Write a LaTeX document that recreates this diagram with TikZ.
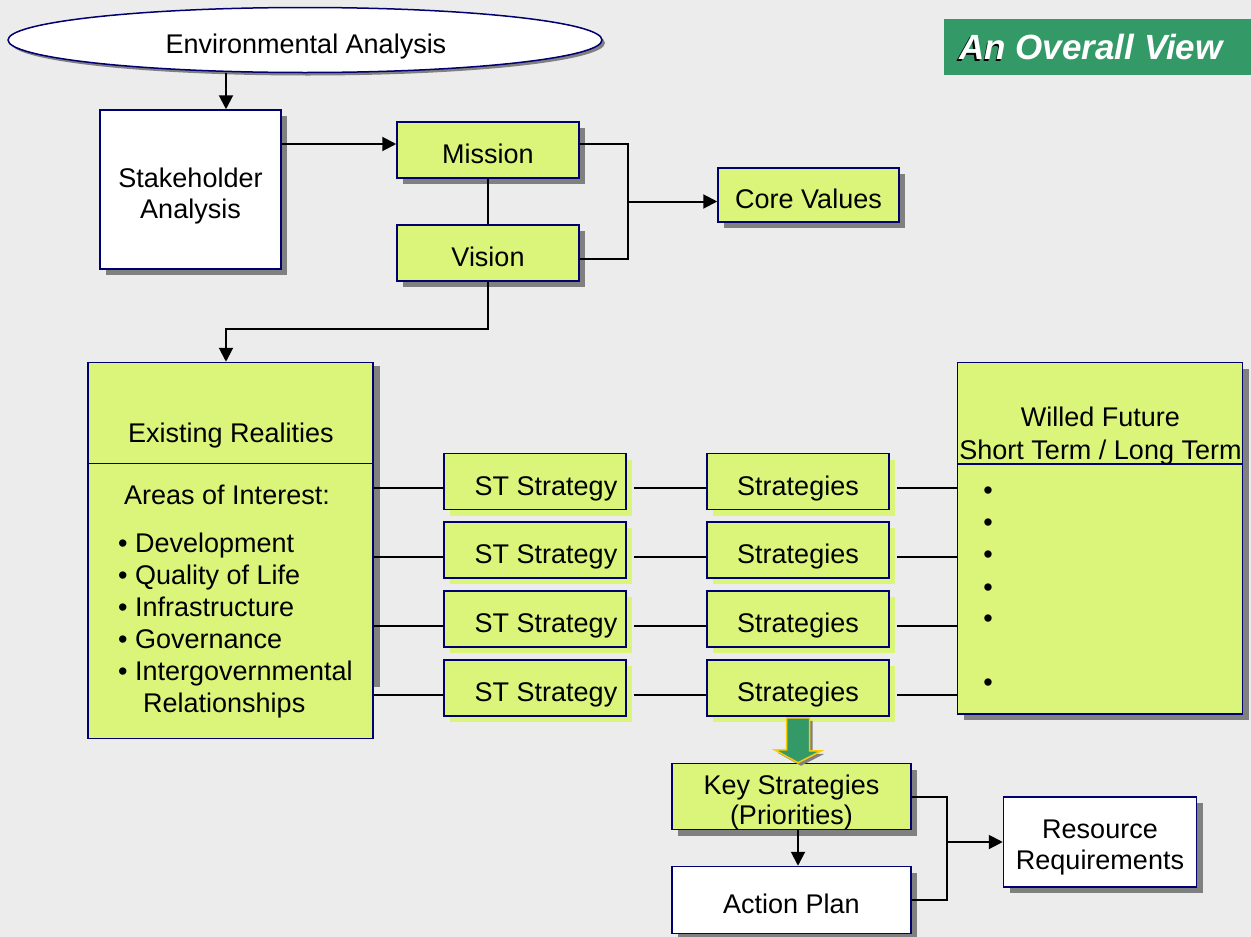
\documentclass[tikz,border=0pt]{standalone}
\usepackage{fontspec}
\setmainfont{Liberation Sans}
\usetikzlibrary{arrows.meta,shadows,shapes.geometric,calc}
\definecolor{lgreen}{RGB}{218,245,122}
\definecolor{navy}{RGB}{0,0,112}
\definecolor{dgreen}{RGB}{51,153,102}
\definecolor{bgc}{RGB}{236,236,236}
\definecolor{gold}{RGB}{255,204,0}
\definecolor{shgray}{RGB}{128,128,128}
\begin{document}
\begin{tikzpicture}[x=1pt,y=-1pt,
  base/.style={draw=navy, line width=1.5pt, inner sep=0pt, font=\fontsize{27}{31}\selectfont},
  one/.style={text height=27pt, text depth=0pt},
  gshadow/.style={drop shadow={shadow xshift=6pt, shadow yshift=-6pt, fill=shgray, opacity=1}},
  box/.style={base, fill=lgreen, gshadow},
  wbox/.style={base, fill=white, gshadow},
  sbox/.style={base, one, fill=lgreen, drop shadow={shadow xshift=6pt, shadow yshift=-6pt, fill=lgreen, opacity=1}},
  flat/.style={base, fill=lgreen},
  txt/.style={inner sep=0pt, align=center, font=\fontsize{27}{31}\selectfont},
  conn/.style={line width=2pt, black},
  arr/.style={conn, -{Triangle[length=14pt,width=14pt]}},
  garrow/.style={fill=dgreen, draw=gold, line width=1.5pt, drop shadow={shadow xshift=3pt, shadow yshift=-3pt, fill=shgray, opacity=1}},
]
\fill[bgc] (0,0) rectangle (1251,937);
\useasboundingbox (0,0) rectangle (1251,937);

% title
\node[fill=dgreen, minimum width=307pt, minimum height=56pt, inner sep=0pt] (tbg) at (1097.5,47) {};
\node[inner sep=0pt, text=white, font=\fontsize{35}{40}\selectfont\bfseries\itshape] (title) at (1091,48)
  {\rlap{\kern-1.5pt\raisebox{-1.5pt}{\color{black}An}}An Overall View};

% top part
\node[base, ellipse, fill=white, minimum width=594pt, minimum height=65pt,
      drop shadow={shadow xshift=3pt, shadow yshift=-3pt, fill=shgray, opacity=1}] (ea) at (305,40) {};
\node[txt] (eat) at (306,47) {Environmental Analysis};
\node[wbox, minimum width=181pt, minimum height=159pt] (sa) at (190.5,189.5) {};
\node[txt] (sat) at (190.5,196) {Stakeholder\\Analysis};
\node[box, one, minimum width=182pt, minimum height=56pt] (mis) at (488,150) {Mission};
\node[box, one, minimum width=182pt, minimum height=56pt] (vis) at (488,253) {Vision};
\node[box, one, minimum width=181pt, minimum height=54pt] (cv) at (808.5,195) {Core Values};

% existing realities
\fill[shgray] (373,366) rectangle (380,687);
\node[flat, minimum width=285pt, minimum height=101pt] (erh) at (230.5,413) {};
\node[flat, minimum width=285pt, minimum height=275pt] (erb) at (230.5,601) {};
\node[txt] (ert) at (231,436) {Existing Realities};
\node[txt] (aoi) at (227,495) {Areas of Interest:};
\node[txt, align=left, anchor=west, font=\fontsize{27}{32}\selectfont] (erl) at (118,626)
  {• Development\\• Quality of Life\\• Infrastructure\\• Governance\\• Intergovernmental\\\hspace*{25pt}Relationships};

% willed future
\node[box, minimum width=285pt, minimum height=101pt] (wfh) at (1100,413) {};
\node[box, minimum width=285pt, minimum height=250pt] (wfb) at (1100,589) {};
\node[txt, font=\fontsize{27}{33}\selectfont] (wft) at (1100.5,436.5) {Willed Future\\Short Term / Long Term};
\foreach \i/\y in {1/493.5,2/525.5,3/557.5,4/590.5,5/621.5,6/685.5}
  \node[txt] (wb\i) at (988,\y) {•};

% strategy rows
\foreach \i/\y in {1/481.5,2/550,3/619,4/688}{
  \node[sbox, minimum width=182pt, minimum height=56pt] (st\i) at (535,\y) {\hspace*{22pt}ST Strategy};
  \node[sbox, minimum width=182pt, minimum height=56pt] (sg\i) at (798,\y) {Strategies};
}
\foreach \i in {1,...,4}{
  \draw[conn] ([yshift=-6.5pt]st\i.west -| erb.east) -- ([yshift=-6.5pt]st\i.west);
  \draw[conn] ([xshift=7pt,yshift=-6.5pt]st\i.east) -- ([yshift=-6.5pt]sg\i.west);
  \draw[conn] ([xshift=7pt,yshift=-6.5pt]sg\i.east) -- ([yshift=-6.5pt]sg\i.east -| wfb.west);
}

% bottom part
\node[box, minimum width=239pt, minimum height=66pt] (ks) at (791.5,796.5) {};
\node[txt, font=\fontsize{27}{30}\selectfont] (kst) at (791.5,803) {Key Strategies\\(Priorities)};
\node[wbox, one, minimum width=239pt, minimum height=67pt] (ap) at (791.5,900) {Action Plan};
\node[wbox, minimum width=193pt, minimum height=90pt] (rr) at (1100,842) {};
\node[txt] (rrt) at (1100,848) {Resource\\Requirements};

\draw[garrow] ([xshift=-11.5pt,yshift=-1pt]sg4.south) -- ++(23,0) -- ++(0,33) -- ++(12,0)
  -- (sg4.south |- ks.north) -- ++(-23.5,-13) -- ++(12,0) -- cycle;

% connectors
\coordinate (c1) at (226,0);
\draw[arr] (ea.south -| c1) -- (sa.north -| c1);
\draw[arr] ([yshift=6pt]mis.west -| sa.east) -- ([yshift=6pt]mis.west);
\draw[conn] (mis.south) -- (vis.north);
\draw[conn] ([yshift=6pt]mis.east) -- ++(48,0) |- ([yshift=-6pt]vis.east);
\coordinate (b1) at ($(mis.east)!0.5!(vis.east)+(48,0)$);
\draw[arr] (b1) -- (b1 -| cv.west);
\draw[arr] (vis.south) -- ++(0,47) -| (c1 |- erh.north);

\draw[arr] ([xshift=6.5pt]ks.south) -- ([xshift=6.5pt]ap.north);
\draw[conn] (ks.east) -- ++(35,0) |- (ap.east);
\coordinate (b2) at ($(ks.east)+(35,0)$);
\draw[arr] (b2 |- rr.west) -- (rr.west);
\end{tikzpicture}
\end{document}
